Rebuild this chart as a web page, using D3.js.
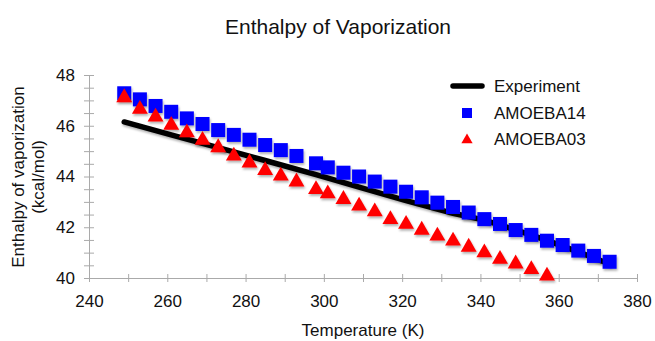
<!DOCTYPE html>
<html>
<head>
<meta charset="utf-8">
<script src="https://cdn.jsdelivr.net/npm/d3@7"></script>
<style>
  body { margin: 0; background: #fff; }
  svg text { font-family: "Liberation Sans", Arial, sans-serif; fill: #111; }
</style>
</head>
<body>
<div id="chart"></div>
<script>
// temperatures (K) shared by both simulated series
const temps = [249, 253, 257, 261, 265, 269, 273, 277, 281, 285, 289, 293, 298, 301, 305, 309,
               313, 317, 321, 325, 329, 333, 337, 341, 345, 349, 353, 357, 361, 365, 369, 373];
const amoeba14 = [47.28, 47.04, 46.78, 46.55, 46.29, 46.07, 45.83, 45.64, 45.45, 45.24, 45.04, 44.81,
                  44.52, 44.36, 44.15, 44.0, 43.8, 43.6, 43.4, 43.18, 42.97, 42.8, 42.58, 42.32,
                  42.13, 41.89, 41.7, 41.47, 41.3, 41.08, 40.87, 40.64];
// AMOEBA03 stops at 357 K
const amoeba03 = [47.15, 46.69, 46.39, 46.06, 45.77, 45.47, 45.18, 44.85, 44.58, 44.28, 44.06, 43.83,
                  43.53, 43.36, 43.14, 42.88, 42.65, 42.35, 42.16, 41.93, 41.7, 41.5, 41.26, 41.04,
                  40.78, 40.6, 40.38, 40.12];
const expT = [249, 261, 273, 285, 298, 309, 321, 333, 341, 349, 357, 365, 373];
const expH = [46.15, 45.64, 45.14, 44.63, 44.07, 43.58, 43.05, 42.55, 42.28, 41.9, 41.48, 41.03, 40.55];

const xTicks = [240, 260, 280, 300, 320, 340, 360, 380];
const yTicks = [40, 42, 44, 46, 48];

const W = 655, H = 341;
const margin = { top: 75, right: 18, bottom: 63, left: 89 };

const svg = d3.select('#chart').append('svg')
    .attr('width', W)
    .attr('height', H);

const defs = svg.append('defs');
const shadow = defs.append('filter').attr('id', 'shadow')
    .attr('x', '-30%').attr('y', '-30%').attr('width', '170%').attr('height', '170%');
shadow.append('feDropShadow')
    .attr('dx', 1).attr('dy', 2)
    .attr('stdDeviation', 1.3)
    .attr('flood-color', '#000')
    .attr('flood-opacity', 0.3);

const x = d3.scaleLinear()
    .domain([240, 380])
    .range([margin.left, W - margin.right]);
const y = d3.scaleLinear()
    .domain([40, 48])
    .range([H - margin.bottom, margin.top]);

const axisColor = '#aaa';

// x axis: minor ticks every 10 K, labels every 20 K
const xAxis = svg.append('g')
    .attr('transform', `translate(0,${y(40)})`)
    .call(d3.axisBottom(x).tickValues(d3.range(240, 381, 10)).tickSize(4).tickSizeOuter(0)
        .tickFormat(d => xTicks.includes(d) ? d : ''));
xAxis.selectAll('.tick line').attr('y1', -4);
xAxis.selectAll('.tick text').attr('y', 17).style('font-size', '17px');

// y axis: minor ticks every 0.5
const yAxis = svg.append('g')
    .attr('transform', `translate(${x(240)},0)`)
    .call(d3.axisLeft(y).tickValues(d3.range(40, 48.01, 0.5)).tickSize(5).tickSizeOuter(0)
        .tickFormat(d => yTicks.includes(d) ? d : ''));
yAxis.selectAll('.tick line').attr('x1', 5);
yAxis.selectAll('.tick text').attr('x', -14).style('font-size', '17px');

[xAxis, yAxis].forEach(g => {
    g.select('.domain').attr('stroke', axisColor);
    g.selectAll('.tick line').attr('stroke', axisColor);
    g.selectAll('.tick text').style('fill', '#111');
});

// experiment line
const line = d3.line()
    .x(d => x(d[0]))
    .y(d => y(d[1]));

svg.append('path')
    .datum(expT.map((t, i) => [t, expH[i]]))
    .attr('d', line)
    .attr('fill', 'none')
    .attr('stroke', '#000')
    .attr('stroke-width', 5.5)
    .attr('stroke-linecap', 'round')
    .attr('filter', 'url(#shadow)');

// AMOEBA14 squares
const sq = 14;
svg.append('g')
    .selectAll('rect')
    .data(amoeba14.map((v, i) => [temps[i], v]))
    .enter().append('rect')
    .attr('x', d => x(d[0]) - sq / 2)
    .attr('y', d => y(d[1]) - sq / 2)
    .attr('width', sq)
    .attr('height', sq)
    .attr('fill', '#0000ff')
    .attr('filter', 'url(#shadow)');

// AMOEBA03 triangles
const tri = d3.symbol().type(d3.symbolTriangle).size(110);
svg.append('g')
    .selectAll('path')
    .data(amoeba03.map((v, i) => [temps[i], v]))
    .enter().append('path')
    .attr('d', tri)
    .attr('transform', d => `translate(${x(d[0])},${y(d[1]) + 1})`)
    .attr('fill', '#ff0000')
    .attr('filter', 'url(#shadow)');

// titles
svg.append('text')
    .attr('x', 338).attr('y', 34)
    .attr('text-anchor', 'middle')
    .style('font-size', '21px')
    .text('Enthalpy of Vaporization');

svg.append('text')
    .attr('x', 363).attr('y', 336)
    .attr('text-anchor', 'middle')
    .style('font-size', '17px')
    .text('Temperature (K)');

const yTitle = svg.append('text')
    .attr('transform', 'translate(24,177) rotate(-90)')
    .attr('text-anchor', 'middle')
    .style('font-size', '17px');
yTitle.append('tspan').attr('x', 0).attr('y', 0).text('Enthalpy of vaporization');
yTitle.append('tspan').attr('x', 0).attr('y', 20).text('(kcal/mol)');

// legend
const legend = svg.append('g');
legend.append('line')
    .attr('x1', 453).attr('x2', 482)
    .attr('y1', 86).attr('y2', 86)
    .attr('stroke', '#000')
    .attr('stroke-width', 5.5)
    .attr('stroke-linecap', 'round');
legend.append('rect')
    .attr('x', 462).attr('y', 108)
    .attr('width', 10).attr('height', 10)
    .attr('fill', '#0000ff');
legend.append('path')
    .attr('d', d3.symbol().type(d3.symbolTriangle).size(55))
    .attr('transform', 'translate(467,140)')
    .attr('fill', '#ff0000');
const labels = ['Experiment', 'AMOEBA14', 'AMOEBA03'];
legend.selectAll('text.lg')
    .data(labels)
    .enter().append('text')
    .attr('class', 'lg')
    .attr('x', 494)
    .attr('y', (d, i) => 86 + i * 26.7)
    .attr('dy', '0.35em')
    .style('font-size', '17px')
    .text(d => d);
</script>
</body>
</html>
